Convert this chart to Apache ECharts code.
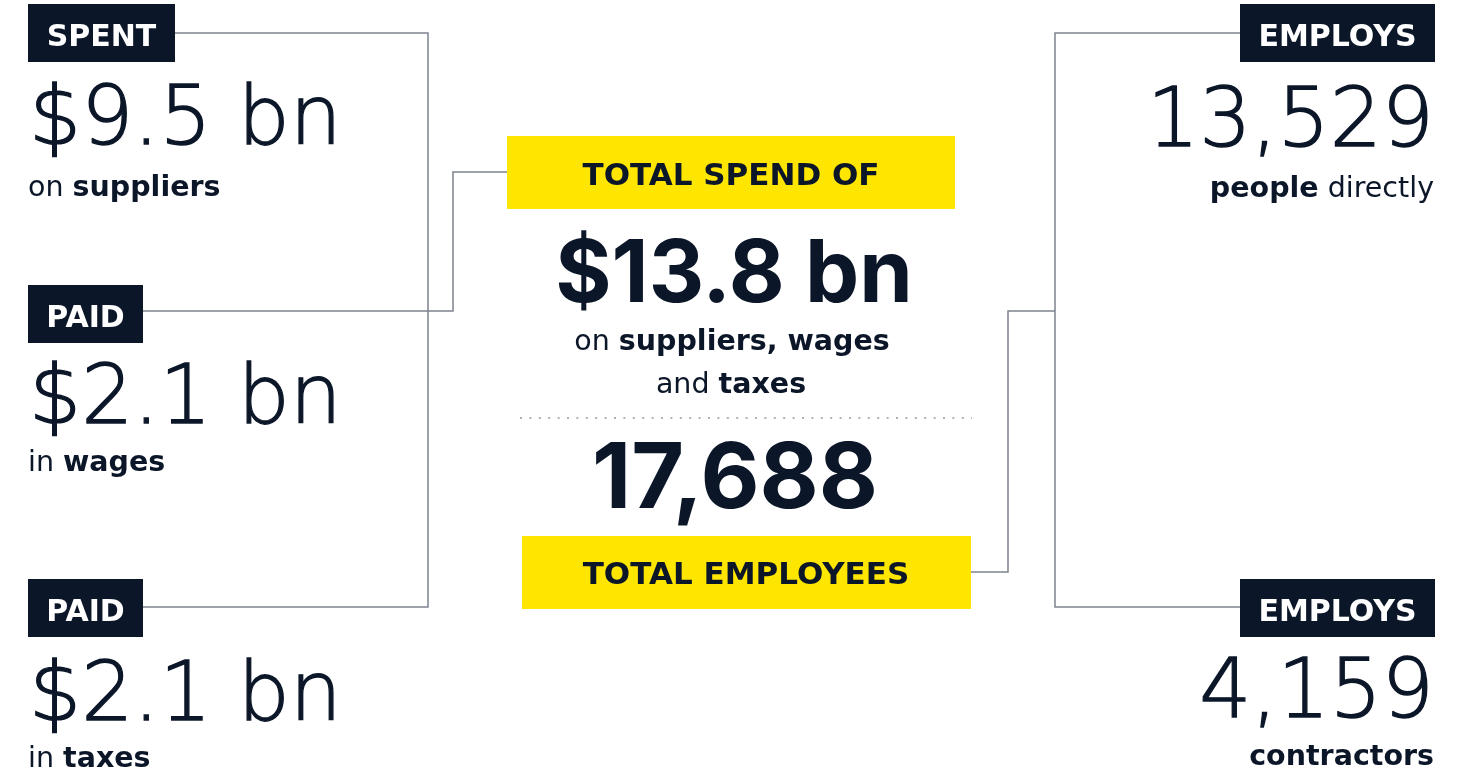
<!DOCTYPE html>
<html>
<head>
<meta charset="utf-8">
<script src="https://cdn.jsdelivr.net/npm/echarts@6/dist/echarts.min.js"></script>
<style>
  html, body { margin: 0; padding: 0; background: #fff; }
  #main { width: 1468px; height: 773px; }
</style>
</head>
<body>
<div id="main"></div>
<script>
// figures shown in the infographic
const leftTags = ['SPENT', 'PAID', 'PAID'];
const leftValues = [9.5, 2.1, 2.1];
const leftPrefixes = ['on', 'in', 'in'];
const leftItems = ['suppliers', 'wages', 'taxes'];

const rightTags = ['EMPLOYS', 'EMPLOYS'];
const rightValues = [13529, 4159];
const rightItems = ['people', 'contractors'];
const rightSuffixes = [' directly', ''];

const spendLabel = 'TOTAL SPEND OF';
const totalSpend = 13.8;
const spendItems = ['suppliers', 'wages', 'taxes'];
const employeesLabel = 'TOTAL EMPLOYEES';
const totalEmployees = 17688;

const NAVY = '#0b1628';
const YELLOW = '#ffe600';
const LINE = '#7d838d';
const LIGHT = 'DejaVu Sans';
const BOLD = 'Inter';

// baseline -> y for verticalAlign middle
const by = (baseline, size) => baseline - 0.3 * size;
const bn = v => '$' + v.toFixed(1) + ' bn';
const num = v => v.toLocaleString('en-US');

function tag(x, top, w, label) {
    return [
        { type: 'rect', shape: { x: x, y: top, width: w, height: 58 }, style: { fill: NAVY }, z: 2 },
        {
            type: 'text', x: x + w / 2, y: by(top + 43, 30), z: 3,
            style: { text: label, fill: '#fff', font: 'bold 30px "DejaVu Sans"', align: 'center', verticalAlign: 'middle' }
        }
    ];
}

function bigLight(x, baseline, text, align) {
    // extra-light face, thickened a little with a stroke
    return {
        type: 'text', x: x, y: by(baseline, 82), z: 3,
        style: {
            text: text, fill: NAVY, stroke: NAVY, lineWidth: 1.3,
            font: '200 82px "' + LIGHT + '"', align: align, verticalAlign: 'middle'
        }
    };
}

function richLine(x, baseline, text, align) {
    return {
        type: 'text', x: x, y: by(baseline, 28.5), z: 3,
        style: {
            text: text, align: align, verticalAlign: 'middle',
            rich: {
                r: { fontFamily: 'DejaVu Sans', fontSize: 28.5, fontWeight: 'normal', fill: NAVY },
                b: { fontFamily: 'DejaVu Sans', fontSize: 28.5, fontWeight: 'bold', fill: NAVY }
            }
        }
    };
}

const leftTops = [4, 285, 579];
const leftWidths = [147, 115, 115];
const leftValueBase = [147, 426, 723];
const leftNoteBase = [197, 472, 768];
const rightTops = [4, 579];
const rightValueBase = [149, 720];
const rightNoteBase = [198, 766];

const elements = [];

// connector lines
const lineStyle = { stroke: LINE, lineWidth: 1.5, fill: null };
[
    [[175, 33], [428, 33], [428, 607], [143, 607]],
    [[143, 311], [453, 311], [453, 172], [507, 172]],
    [[971, 572], [1008, 572], [1008, 311], [1055, 311]],
    [[1240, 33], [1055, 33], [1055, 607], [1240, 607]]
].forEach(pts => elements.push({ type: 'polyline', shape: { points: pts }, style: lineStyle, z: 1 }));

// left column
leftTags.forEach((t, i) => {
    elements.push(...tag(28, leftTops[i], leftWidths[i], t));
    elements.push(bigLight(29, leftValueBase[i], bn(leftValues[i]), 'left'));
    elements.push(richLine(28, leftNoteBase[i], '{r|' + leftPrefixes[i] + ' }{b|' + leftItems[i] + '}', 'left'));
});

// right column
rightTags.forEach((t, i) => {
    elements.push(...tag(1240, rightTops[i], 195, t));
    elements.push(bigLight(1434, rightValueBase[i], num(rightValues[i]), 'right'));
    let note = '{b|' + rightItems[i] + '}';
    if (rightSuffixes[i]) note += '{r|' + rightSuffixes[i] + '}';
    elements.push(richLine(1434, rightNoteBase[i], note, 'right'));
});

// centre block
elements.push(
    { type: 'rect', shape: { x: 507, y: 136, width: 448, height: 73 }, style: { fill: YELLOW }, z: 2 },
    {
        type: 'text', x: 731, y: by(186, 31), z: 3,
        style: { text: spendLabel, fill: NAVY, font: 'bold 31px "DejaVu Sans"', align: 'center', verticalAlign: 'middle' }
    },
    {
        type: 'text', x: 734, y: by(302, 86), z: 3,
        style: { text: bn(totalSpend), fill: NAVY, font: '700 86px "' + BOLD + '"', align: 'center', verticalAlign: 'middle' }
    },
    richLine(732, 351, '{r|on }{b|' + spendItems[0] + ', ' + spendItems[1] + '}', 'center'),
    richLine(731, 394, '{r|and }{b|' + spendItems[2] + '}', 'center'),
    {
        type: 'line', shape: { x1: 520, y1: 418, x2: 972, y2: 418 }, z: 1,
        style: { stroke: '#aeb2b8', lineWidth: 2, lineDash: [2, 7.4] }
    },
    {
        type: 'text', x: 735, y: by(508, 91), z: 3,
        style: { text: num(totalEmployees), fill: NAVY, font: '700 91px "' + BOLD + '"', align: 'center', verticalAlign: 'middle' }
    },
    { type: 'rect', shape: { x: 522, y: 536, width: 449, height: 73 }, style: { fill: YELLOW }, z: 2 },
    {
        type: 'text', x: 746, y: by(585, 31), z: 3,
        style: { text: employeesLabel, fill: NAVY, font: 'bold 31px "DejaVu Sans"', align: 'center', verticalAlign: 'middle' }
    }
);

const chart = echarts.init(document.getElementById('main'), null, { renderer: 'canvas' });
chart.setOption({
    backgroundColor: '#ffffff',
    animation: false,
    graphic: { elements: elements }
});
</script>
</body>
</html>
